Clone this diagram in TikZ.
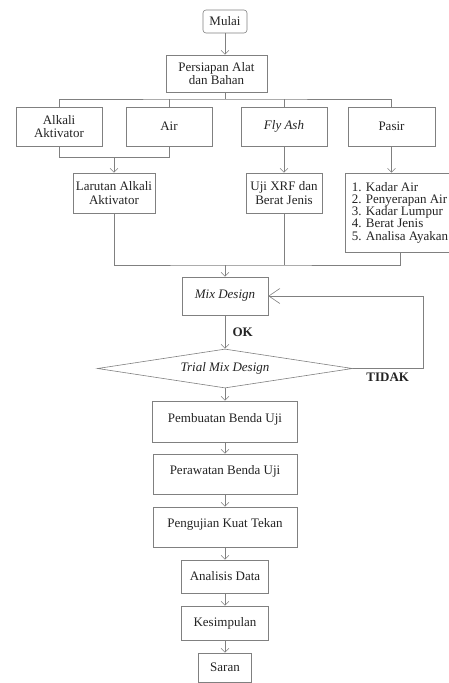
\documentclass[tikz,border=0pt]{standalone}
\usepackage{fontspec}
\setmainfont{Liberation Serif}
\usepackage{xcolor}
\usetikzlibrary{arrows.meta, shapes.geometric, calc, positioning}
\definecolor{garis}{RGB}{128,128,128}
\definecolor{teks}{RGB}{35,35,35}

\begin{document}
\begin{tikzpicture}[x=1pt, y=-1pt, line width=0.6pt, color=garis,
    >={Straight Barb[length=4pt, width=8pt]},
    font=\fontsize{13}{13.6}\selectfont,
    kotak/.style={draw=garis, text=teks, align=center, inner sep=2pt},
    teksatas/.style={text depth=8pt},
    ket/.style={text=teks, font=\fontsize{13}{13.6}\selectfont\bfseries}]
    \useasboundingbox (0, 0) rectangle (448, 683);

    \node[kotak, rounded corners=3pt, minimum width=44, minimum height=23] (mulai) at (225, 21.5) {Mulai};
    \node[kotak, minimum width=101, minimum height=37] (persiapan) at (216.5, 73.5) {Persiapan Alat\\dan Bahan};
    \node[kotak, minimum width=86, minimum height=39] (alkali) at (59, 126.5) {Alkali\\Aktivator};
    \node[kotak, minimum width=86, minimum height=39] (air) at (169, 126.5) {Air};
    \node[kotak, minimum width=86, minimum height=39] (flyash) at (284, 126.5) {\textit{Fly Ash}};
    \node[kotak, minimum width=87, minimum height=39] (pasir) at (391.5, 126.5) {Pasir};
    \node[kotak, minimum width=82, minimum height=40] (larutan) at (114, 193) {Larutan Alkali\\Aktivator};
    \node[kotak, minimum width=76, minimum height=40] (uji) at (284, 193) {Uji XRF dan\\Berat Jenis};
    \node[kotak, align=left, font=\fontsize{13}{12.2}\selectfont, minimum width=110, minimum height=79] (daftar) at (400, 212.5) {1. Kadar Air\\2. Penyerapan Air\\3. Kadar Lumpur\\4. Berat Jenis\\5. Analisa Ayakan};

    \node[kotak, minimum width=86, minimum height=38] (mix) at (225, 296) {\textit{Mix Design}};
    \node[kotak, diamond, aspect=6.5, inner sep=0pt, minimum width=255, minimum height=39] (trial) at (225, 368.5) {\textit{Trial Mix Design}};
    \node[kotak, teksatas, minimum width=145, minimum height=41] (pembuatan) at (225, 421.5) {Pembuatan Benda Uji};
    \node[kotak, teksatas, minimum width=144, minimum height=40] (perawatan) at (225, 474) {Perawatan Benda Uji};
    \node[kotak, teksatas, minimum width=144, minimum height=40] (pengujian) at (225, 527) {Pengujian Kuat Tekan};
    \node[kotak, minimum width=87, minimum height=33] (analisis) at (225, 576.5) {Analisis Data};
    \node[kotak, minimum width=87, minimum height=34] (kesimpulan) at (225, 623) {Kesimpulan};
    \node[kotak, minimum width=53, minimum height=29] (saran) at (225, 667.5) {Saran};

    % bahan
    \draw[->] (mulai) -- (mulai |- persiapan.north);
    \coordinate (cabang) at (225, 99);
    \draw (mulai |- persiapan.south) -- (cabang);
    \draw (alkali.north) |- (cabang) -| (pasir.north);
    \foreach \n in {air, flyash}
        \draw (\n.north) -- (\n.north |- cabang);
    \coordinate (temu) at ($(alkali.south)!0.5!(air.south) + (0, 11)$);
    \draw (alkali.south) |- (temu) -| (air.south);
    \draw[->] (temu) -- (temu |- larutan.north);
    \draw
        (flyash) edge[->] (uji)
        (pasir.south) edge[->] (pasir.south |- daftar.north);
    \coordinate (kumpul) at (225, 265);
    \draw (larutan.south) |- (kumpul) -| (daftar.south);
    \draw (uji.south) -- (uji.south |- kumpul);
    \draw[->] (kumpul) -- (mix.north);

    % trial
    \draw[->] (mix) -- node[ket, right=4pt] {OK} (trial);
    \draw[-{Straight Barb[length=11pt, width=15pt]}] (trial.east) -- node[ket, below=1pt] {TIDAK} ++(70, 0) |- (mix.east);

    \draw
        (trial) edge[->] (pembuatan)
        (pembuatan) edge[->] (perawatan)
        (perawatan) edge[->] (pengujian)
        (pengujian) edge[->] (analisis)
        (analisis) edge[->] (kesimpulan)
        (kesimpulan) edge[->] (saran);
\end{tikzpicture}
\end{document}
